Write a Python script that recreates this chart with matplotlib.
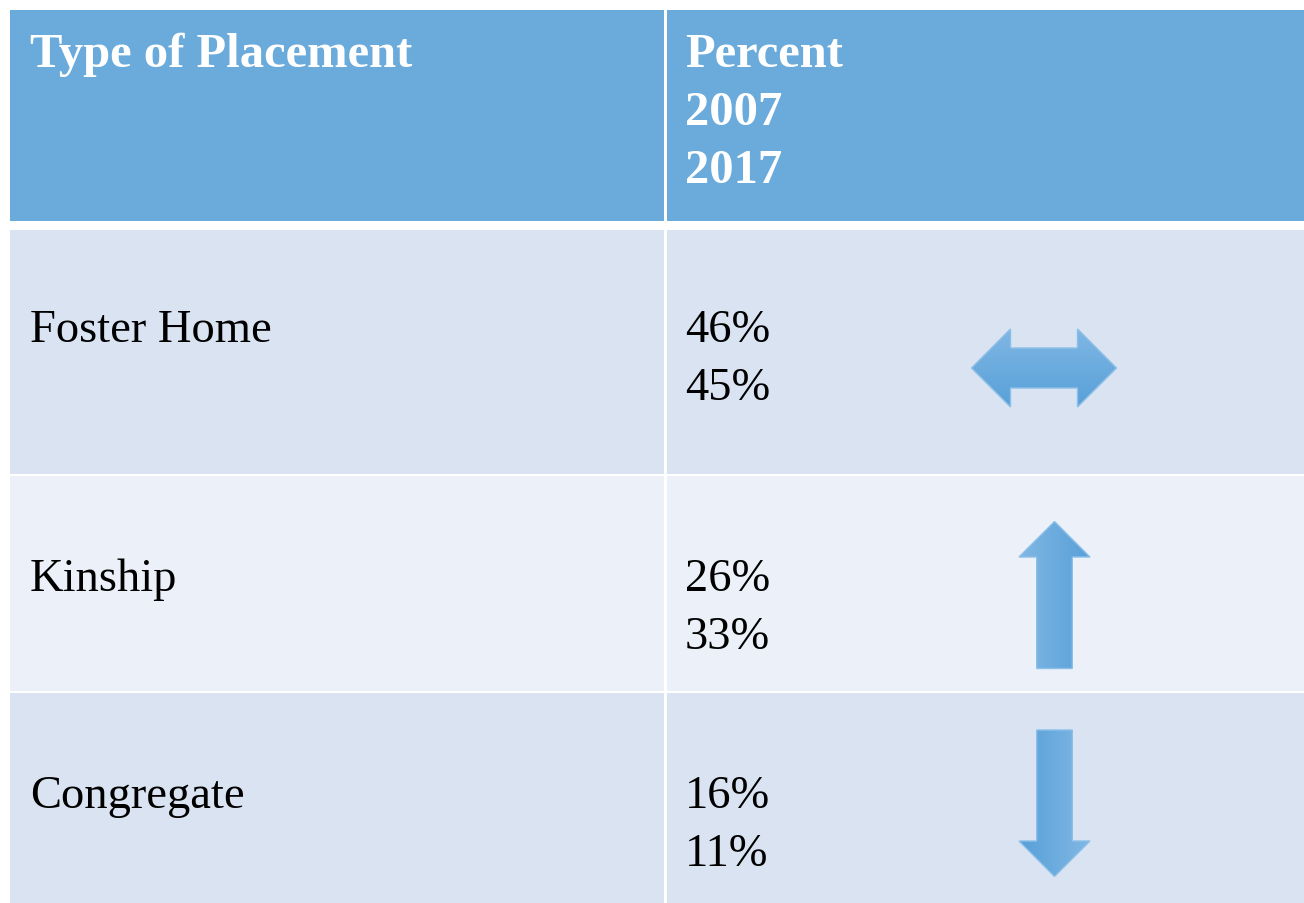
import numpy as np
import matplotlib.pyplot as plt
from matplotlib.patches import Rectangle, Polygon

# table contents
placements = ["Foster Home", "Kinship", "Congregate"]
pct_2007 = [46, 26, 16]
pct_2017 = [45, 33, 11]
head_left = "Type of Placement"
head_right = ["Percent", "2007", "2017"]

W, H = 1304, 904
fig = plt.figure(figsize=(W / 100, H / 100), dpi=100)
ax = fig.add_axes([0, 0, 1, 1])
ax.set_xlim(0, W)
ax.set_ylim(H, 0)
ax.axis('off')

hdr_col = '#6aabdb'
row_cols = ['#dae3f1', '#ecf1f9', '#dae3f1']
rows_y = [(231, 475), (477, 692), (694, 905)]
col_x = [(10, 664), (667, W + 1)]
font = 'Liberation Serif'
fs = 33.5
fs_hd = 35

# header
for (a, b) in col_x:
    ax.add_patch(Rectangle((a, 11), b - a, 211, color=hdr_col, lw=0))
ax.text(30, 67, head_left, color='white', fontsize=fs_hd, fontweight='bold',
        family=font, va='baseline')
for k, s in enumerate(head_right):
    ax.text(685, 67 + k * 58, s, color='white', fontsize=fs_hd, fontweight='bold',
            family=font, va='baseline')

# body rows
for i, (ya, yb) in enumerate(rows_y):
    for (a, b) in col_x:
        ax.add_patch(Rectangle((a, ya), b - a, yb - ya, color=row_cols[i], lw=0))


def grad_arrow(pts, direction):
    pts = np.array(pts, dtype=float)
    xmn, ymn = pts.min(axis=0)
    xmx, ymx = pts.max(axis=0)
    light = np.array([128, 183, 228]) / 255
    dark = np.array([88, 160, 216]) / 255
    t = np.linspace(0, 1, 100)
    if direction == 'v':
        g = light[None, :] * (1 - t[:, None]) + dark[None, :] * t[:, None]
        img = g[:, None, :].repeat(10, axis=1)
    elif direction == 'lr':
        g = light[None, :] * (1 - t[:, None]) + dark[None, :] * t[:, None]
        img = g[None, :, :].repeat(10, axis=0)
    else:
        g = dark[None, :] * (1 - t[:, None]) + light[None, :] * t[:, None]
        img = g[None, :, :].repeat(10, axis=0)
    poly = Polygon(pts, closed=True, facecolor='none', edgecolor='#8cc0e8',
                   lw=1, zorder=4)
    ax.add_patch(poly)
    im = ax.imshow(img, extent=(xmn, xmx, ymx, ymn), origin='upper',
                   interpolation='bilinear', aspect='auto', zorder=3)
    im.set_clip_path(poly)


arrow_cy = [369, 596, 804]
for i, name in enumerate(placements):
    ya, yb = rows_y[i]
    base = [342, 591, 808][i]
    ax.text(30, base, name, fontsize=fs, family=font,
            color='black', va='baseline')
    ax.text(685, base, f"{pct_2007[i]}%", fontsize=fs, family=font,
            color='black', va='baseline')
    ax.text(685, base + 58, f"{pct_2017[i]}%", fontsize=fs, family=font,
            color='black', va='baseline')

    diff = pct_2017[i] - pct_2007[i]
    cy = arrow_cy[i]
    if abs(diff) <= 1:
        cx = 1044
        pts = [(cx - 72.5, cy), (cx - 33.5, cy - 39), (cx - 33.5, cy - 20),
               (cx + 33.5, cy - 20), (cx + 33.5, cy - 39), (cx + 72.5, cy),
               (cx + 33.5, cy + 39), (cx + 33.5, cy + 20), (cx - 33.5, cy + 20),
               (cx - 33.5, cy + 39)]
        grad_arrow(pts, 'v')
    elif diff > 0:
        cx = 1054.5
        top, hb, bot = cy - 73.5, cy - 38, cy + 73.5
        pts = [(cx, top), (cx + 35.5, hb), (cx + 17.8, hb), (cx + 17.8, bot),
               (cx - 17.8, bot), (cx - 17.8, hb), (cx - 35.5, hb)]
        grad_arrow(pts, 'lr')
    else:
        cx = 1054.5
        top, hb, tip = cy - 73, cy + 38, cy + 73.5
        pts = [(cx - 17.8, top), (cx + 17.8, top), (cx + 17.8, hb),
               (cx + 35.5, hb), (cx, tip), (cx - 35.5, hb), (cx - 17.8, hb)]
        grad_arrow(pts, 'rl')

ax.set_xlim(0, W)
ax.set_ylim(H, 0)
fig.savefig('out.png', dpi=100)
